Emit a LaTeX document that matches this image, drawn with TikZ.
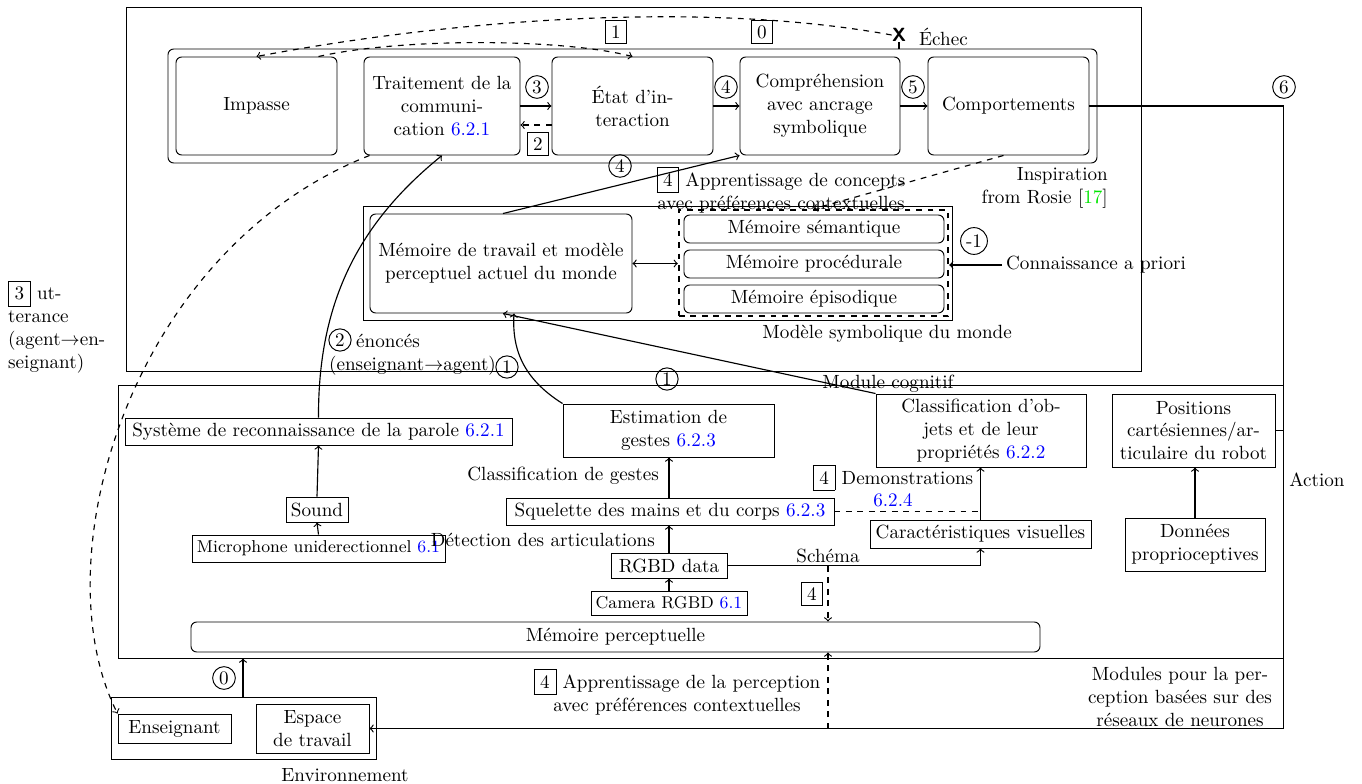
\documentclass[tikz,border=0pt]{standalone}
\usetikzlibrary{calc}
\definecolor{refblue}{RGB}{0,0,255}
\definecolor{refgreen}{RGB}{0,230,0}
\newcommand{\rb}[1]{\textcolor{refblue}{#1}}
\tikzset{
  pxbox/.style n args={4}{minimum width={(#3-#1)*0.0184cm}, minimum height={(#4-#2)*0.0184cm}, at={({(#1+#3)/2},{(#2+#4)/2})}},
  bx/.style={draw, line width=0.5pt, inner sep=0pt, align=center},
  rbx/.style={bx, rounded corners=3pt},
  cn/.style={circle, draw, line width=0.5pt, inner sep=1.2pt},
  sq/.style={rectangle, draw, line width=0.5pt, inner sep=2.8pt},
  lbl/.style={align=center, inner sep=2pt},
  conn/.style={line width=0.6pt, ->},
}
\begin{document}
\begin{tikzpicture}[x=0.0184cm, y=-0.0184cm]
\useasboundingbox (0,0) rectangle (1362,784);

% ---------- cognitive module ----------
\node[bx, pxbox={126}{7}{1141}{371}] (cog) {};
\node[lbl] (coglbl) at (888,384) {Module cognitif};
\node[rbx, pxbox={168}{49}{1097}{163}] (rosie) {};
\node[lbl, align=right, anchor=east] (rosielbl) at (1112,188) {Inspiration\\from Rosie [\textcolor{refgreen}{17}]};

\node[rbx, pxbox={176}{57}{337}{155}] (imp) {Impasse};
\node[rbx, pxbox={364}{57}{520}{155}] (trait) {Traitement de la\\communi-\\cation \rb{6.2.1}};
\node[rbx, pxbox={552}{57}{713}{155}] (etat) {État d’in-\\teraction};
\node[rbx, pxbox={740}{57}{900}{155}] (compr) {Compréhension\\avec ancrage\\symbolique};
\node[rbx, pxbox={928}{57}{1089}{155}] (comp) {Comportements};

\draw[conn] (trait.east) -- (etat.west);
\draw[conn, dashed] ($(etat.west)+(0,19)$) -- ($(trait.east)+(0,19)$);
\draw[conn] (etat.east) -- (compr.west);
\draw[conn] (compr.east) -- (comp.west);
\node[cn] (c3) at (537,87) {3};
\node[sq] (s2) at (538,144) {2};
\node[cn] (c4a) at (726,87) {4};
\node[cn] (c5) at (913,87) {5};
\node[sq] (s1) at (616,32) {1};
\node[sq] (s0) at (762,32) {0};
\node[font=\sffamily\bfseries, inner sep=0pt] (echx) at (899,35) {X};
\node[lbl, anchor=west] (echec) at (915,37) {Échec};
\draw[line width=0.6pt] (echx.south) -- (echx.south |- rosie.north);
\draw[conn, dashed] (echx.west) .. controls (700,0) and (450,20) .. (imp.north);
\draw[conn, dashed] ($(imp.north)+(62,0)$) .. controls (400,38) and (560,38) .. (etat.north);

% symbolic world model
\node[bx, pxbox={363}{206}{952}{320}] (msm) {};
\node[lbl] (msmlbl) at (887,334) {Modèle symbolique du monde};
\node[rbx, pxbox={370}{214}{632}{313}] (wm) {Mémoire de travail et modèle\\perceptuel actuel du monde};
\node[draw, line width=1.2pt, dashed, inner sep=0pt, pxbox={679}{210}{948}{316}] (ltm) {};
\node[rbx, pxbox={684}{215}{944}{243}] (sem) {Mémoire sémantique};
\node[rbx, pxbox={684}{250}{944}{278}] (proc) {Mémoire procédurale};
\node[rbx, pxbox={684}{285}{944}{313}] (epi) {Mémoire épisodique};
\draw[line width=0.6pt, <->] (wm.east) -- (wm.east -| ltm.west);
\node[lbl, anchor=west] (prior) at (1002,265) {Connaissance a priori};
\draw[conn] (prior.west) -- (prior.west -| ltm.east);
\node[cn] (cm1) at (974,241) {-1};

\draw[conn] ($(wm.north)+(2,0)$) -- (compr.south west);
\node[cn] (c4b) at (620,166) {4};
\node[lbl] (conc) at (781,190) {\fbox{4} Apprentissage de concepts\\avec préférences contextuelles};
\draw[conn, dashed] ($(comp.south)+(-5,0)$) -- (ltm.north);

% ---------- perception modules ----------
\node[bx, pxbox={118}{385}{1283}{658}] (perc) {};
\node[lbl] (perclbl) at (1180,697) {Modules pour la per-\\ception basées sur des\\réseaux de neurones};

\node[bx, pxbox={125}{418}{512}{445}] (asr) {Système de reconnaissance de la parole \rb{6.2.1}};
\node[bx, pxbox={286}{497}{348}{522}] (sound) {Sound};
\node[bx, pxbox={192}{535}{445}{562}, font=\small] (mic) {Microphone uniderectionnel \rb{6.1}};
\draw[conn] (mic.north) -- (sound.south);
\draw[conn] (sound.north) -- (asr.south);

\node[bx, pxbox={563}{404}{774}{457}] (gest) {Estimation de\\gestes \rb{6.2.3}};
\node[bx, pxbox={506}{498}{834}{525}] (skel) {Squelette des mains et du corps \rb{6.2.3}};
\node[bx, pxbox={611}{553}{727}{578}] (rgbd) {RGBD data};
\node[bx, pxbox={591}{591}{747}{615}, font=\small] (cam) {Camera RGBD \rb{6.1}};
\draw[conn] (cam.north) -- (rgbd.south);
\draw[conn] (rgbd.north) -- (rgbd.north |- skel.south);
\draw[conn] (rgbd.north |- skel.north) -- (rgbd.north |- gest.south);
\node[lbl, anchor=east] (clg) at (663,476) {Classification de gestes};
\node[lbl, anchor=east] (deta) at (659,540) {Détection des articulations};

\node[bx, pxbox={876}{394}{1086}{467}] (obj) {Classification d’ob-\\jets et de leur\\propriétés \rb{6.2.2}};
\node[bx, pxbox={870}{520}{1091}{548}] (vis) {Caractéristiques visuelles};
\draw[conn] (vis.north) -- (vis.north |- obj.south);
\draw[line width=0.6pt, dashed] (skel.east) -- (skel.east -| vis.north);
\node[lbl] (demo) at (893,486) {\fbox{4} Demonstrations\\\rb{6.2.4}};

\node[rbx, pxbox={191}{622}{1040}{652}] (pm) {Mémoire perceptuelle};
\draw[conn] (rgbd.east) -| (vis.south);
\node[lbl] (schema) at (828,556) {Schéma};
\coordinate (sch) at (828,566);
\draw[conn, dashed] (sch) -- (sch |- pm.north);
\node[sq] (s4b) at (812,594) {4};

\node[bx, pxbox={1112}{394}{1275}{467}] (pos) {Positions\\cartésiennes/ar-\\ticulaire du robot};
\node[bx, pxbox={1125}{518}{1265}{571}] (prop) {Données\\proprioceptives};
\draw[conn] (prop.north) -- (prop.north |- pos.south);
\draw[line width=0.6pt] (pos.east) -- (pos.east -| perc.east);

% ---------- environment ----------
\node[bx, pxbox={111}{697}{376}{759}] (env) {};
\node[lbl] (envlbl) at (345,775) {Environnement};
\node[bx, pxbox={118}{714}{231}{743}] (ens) {Enseignant};
\node[bx, pxbox={256}{704}{369}{753}] (esp) {Espace\\de travail};
\coordinate (envup) at (243,697);
\draw[conn] (envup) -- (envup |- perc.south);
\node[cn] (c0) at (224,678) {0};

% action
\draw[conn] (comp.east) -- (comp.east -| perc.east) |- (esp.east);
\node[lbl] (action) at (1317,480) {Action};
\node[cn] (c6) at (1284,87) {6};
\draw[conn, dashed] (sch |- esp.east) -- (sch |- pm.south);
\node[lbl] (appp) at (677,692) {\fbox{4} Apprentissage de la perception\\avec préférences contextuelles};

% utterances
\node[lbl, align=left, anchor=west] (utt) at (4,327) {\fbox{3} ut-\\terance\\(agent$\rightarrow$en-\\seignant)};
\draw[conn, dashed] ($(trait.south west)+(6,0)$) .. controls (130,250) and (40,560) .. (ens.north west);
\node[cn] (c2) at (340,340) {2};
\node[lbl, anchor=west] (enon1) at (352,341) {énoncés};
\node[lbl, anchor=west] (enon2) at (325,366) {(enseignant$\rightarrow$agent)};
\node[cn] (c1a) at (507,367) {1};
\node[cn] (c1b) at (667,379) {1};

\draw[conn] (asr.north) .. controls (318,300) and (360,222) .. (trait.south);
\draw[conn] (gest.north west) .. controls (522,378) and (512,348) .. ($(wm.south)+(13,0)$);
\draw[conn] (obj.north west) -- ($(wm.south)+(2,0)$);
\end{tikzpicture}
\end{document}
